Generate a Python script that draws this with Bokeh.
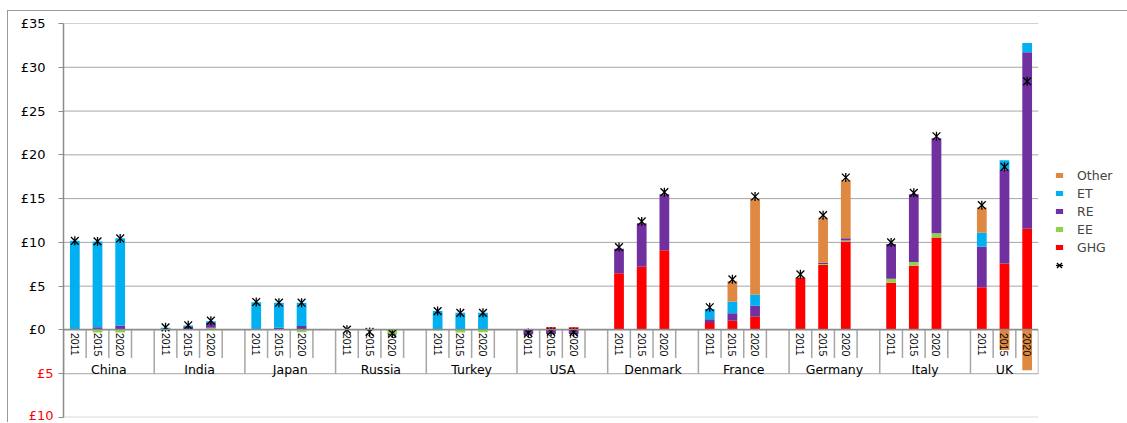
import numpy as np
from bokeh.plotting import figure
from bokeh.models import (ColumnDataSource, FactorRange, Range1d, CategoricalAxis,
                          LinearAxis, FixedTicker, Legend, LegendItem)
from bokeh.embed import file_html
from bokeh.resources import INLINE

# ---------------- data ----------------
countries = ["China", "India", "Japan", "Russia", "Turkey", "USA",
             "Denmark", "France", "Germany", "Italy", "UK"]
years = ["2011", "2015", "2020"]

ghg = [0, 0, 0,  0, 0, 0,  0, 0, 0,  0, 0, 0,  0, 0, 0,  0, 0.3, 0.3,
       6.47, 7.22, 9.09,  0.8, 1.06, 1.52,  5.95, 7.41, 10.11,
       5.39, 7.33, 10.57,  4.87, 7.6, 11.55]
ee = [0, -0.3, -0.3,  0, 0, 0.25,  0, 0, -0.25,  0, -0.05, -0.5,
      -0.05, -0.3, -0.25,  0, 0, 0,  0, 0, 0,  0, 0, 0,
      0.1, 0.12, 0.12,  0.46, 0.42, 0.46,  0, 0, 0]
re = [0.1, 0.3, 0.5,  0.05, 0.35, 0.55,  0.05, 0.25, 0.45,  0, 0, 0,
      0, 0, 0,  -0.5, -0.45, -0.45,  2.8, 4.98, 6.42,  0.42, 0.84, 1.25,
      0, 0.15, 0.25,  3.96, 7.76, 10.86,  4.63, 10.72, 20.18]
et = [10.08, 9.8, 9.96,  0.2, 0.15, 0.2,  3.1, 2.85, 2.65,  0, 0, 0,
      2.15, 1.95, 1.95,  0, 0, 0,  0, 0, 0,  1.17, 1.33, 1.26,
      0, 0, 0,  0, 0, 0,  1.59, 1.06, 1.03]
other = [0, 0, 0,  0, 0, 0,  0, 0, 0,  0, 0, 0,  0, 0, 0,  0, 0, 0,
         0, 0, 0,  0, 2.32, 10.94,  0, 5.13, 6.61,  0, 0, 0,  2.9, -2.3, -4.6]
total = [10.18, 10.11, 10.45,  0.3, 0.53, 1.06,  3.19, 3.11, 3.11,
         0.03, -0.23, -0.4,  2.15, 1.95, 1.95,  -0.35, -0.2, -0.25,
         9.46, 12.39, 15.74,  2.59, 5.78, 15.24,  6.35, 13.11, 17.41,
         10.0, 15.66, 22.12,  14.25, 18.62, 28.39]

y_ticks = [-10, -5, 0, 5, 10, 15, 20, 25, 30, 35]

series = [("GHG", ghg, "#FF0000"), ("EE", ee, "#92D050"), ("RE", re, "#7030A0"),
          ("ET", et, "#00B0F0"), ("Other", other, "#DE8842")]

# ---------------- factors ----------------
factors = []
for i, c in enumerate(countries):
    for y in years:
        factors.append((c, y))
    if i < len(countries) - 1:
        factors.append((c, " "))
bar_x = [(c, y) for c in countries for y in years]
n = len(factors)

p = figure(x_range=FactorRange(factors=factors, factor_padding=0, group_padding=0,
                               subgroup_padding=0, range_padding=0),
           y_range=Range1d(-10, 35),
           frame_width=975, frame_height=394, output_backend="svg", toolbar_location=None,
           x_axis_location=None, min_border_left=55, min_border_right=88,
           min_border_top=12, min_border_bottom=5)
p.outline_line_color = None
p.background_fill_color = "white"
p.border_fill_color = "white"
p.margin = (10, 0, 0, 7)
p.styles = {"border-top": "1px solid #9A9A9A", "border-left": "1px solid #9A9A9A"}

# horizontal gridlines
grid_y = np.array(y_ticks, dtype=float)
grid_col = ["#D9D9D9" if t == min(y_ticks) else "#A6A6A6" for t in y_ticks]
grid_w = [2 if t == min(y_ticks) else 1 for t in y_ticks]
p.segment(x0=np.zeros(len(grid_y)), x1=np.full(len(grid_y), n), y0=grid_y, y1=grid_y,
          line_color=grid_col, line_width=grid_w, level="underlay")
p.xgrid.visible = False
p.ygrid.visible = False

# stacked bars (positive and negative stacks separately)
pos = np.zeros(len(bar_x))
neg = np.zeros(len(bar_x))
proxies = {}
for name, vals, color in series:
    v = np.array(vals, dtype=float)
    bottom = np.where(v >= 0, pos, neg)
    top = bottom + v
    pos += np.where(v > 0, v, 0)
    neg += np.where(v < 0, v, 0)
    src = ColumnDataSource(dict(x=bar_x, bottom=bottom, top=top))
    p.vbar(x="x", bottom="bottom", top="top", width=0.43, source=src,
           fill_color=color, line_color=None)
    # legend swatch (not drawn in the plot: y is NaN)
    proxies[name] = p.scatter(x=[bar_x[0]], y=[np.nan], marker="dash", size=8,
                              line_color=color, line_width=5, line_cap="butt")

# total markers (X with a vertical bar)
tsrc = ColumnDataSource(dict(x=bar_x, y=total))
r_x = p.scatter(x="x", y="y", source=tsrc, marker="x", size=11, line_color="black",
                line_width=1.3)
r_v = p.scatter(x="x", y="y", source=tsrc, marker="dash", angle=np.pi / 2, size=9,
                line_color="black", line_width=1.3)

# category boxes under the zero line
slot_edges = np.arange(n + 1)
group_edges = [0]
acc = 0
for c in countries:
    acc += sum(1 for f in factors if f[0] == c)
    group_edges.append(acc)
line_col = "#A6A6A6"
p.segment(x0=slot_edges, x1=slot_edges, y0=np.zeros(n + 1), y1=np.full(n + 1, -3.2),
          line_color=line_col, line_width=1.5)
ge = np.array(group_edges)
p.segment(x0=ge, x1=ge, y0=np.full(len(ge), -3.2), y1=np.full(len(ge), -5.0),
          line_color=line_col, line_width=1.5)

# x axis at zero
xax = CategoricalAxis(fixed_location=0)
xax.axis_line_color = "#8C8C8C"
xax.axis_line_width = 1.5
xax.major_tick_line_color = None
xax.major_tick_out = 0
xax.major_tick_in = 0
xax.minor_tick_line_color = None
xax.major_label_orientation = "vertical"
xax.major_label_text_font = "Liberation Sans"
xax.major_label_text_font_size = "10.5px"
xax.major_label_text_color = "black"
xax.major_label_standoff = 3
xax.group_text_font = "DejaVu Sans"
xax.group_text_font_size = "12.5px"
xax.group_text_font_style = "normal"
xax.group_text_color = "black"
xax.separator_line_color = None
p.add_layout(xax, "below")

# y axis: black labels for >= 0, ticks everywhere
p.yaxis.ticker = FixedTicker(ticks=y_ticks)
p.yaxis.major_label_overrides = {t: (f"£{t}" if t >= 0 else "") for t in y_ticks}
p.yaxis.axis_line_color = "#8C8C8C"
p.yaxis.axis_line_width = 1.5
p.yaxis.major_tick_line_color = "#8C8C8C"
p.yaxis.major_tick_out = 5
p.yaxis.major_tick_in = 0
p.yaxis.minor_tick_line_color = None
p.yaxis.major_label_standoff = 13
p.yaxis.major_label_text_font = "DejaVu Sans"
p.yaxis.major_label_text_font_size = "13px"
p.yaxis.major_label_text_color = "black"

# red labels for negative values (Excel "£0;[Red]£0"), pulled back under the main axis
neg_ticks = [t for t in y_ticks if t < 0]
nax = LinearAxis(ticker=FixedTicker(ticks=neg_ticks),
                 major_label_overrides={t: f"£{-t}" for t in neg_ticks})
nax.axis_line_color = None
nax.major_tick_line_color = None
nax.major_tick_out = 0
nax.major_tick_in = 0
nax.minor_tick_line_color = None
nax.major_label_standoff = -36
nax.major_label_text_font = "DejaVu Sans"
nax.major_label_text_font_size = "13px"
nax.major_label_text_color = "#FF0000"
p.add_layout(nax, "left")

legend = Legend(items=[LegendItem(label="Other", renderers=[proxies["Other"]]),
                       LegendItem(label="ET", renderers=[proxies["ET"]]),
                       LegendItem(label="RE", renderers=[proxies["RE"]]),
                       LegendItem(label="EE", renderers=[proxies["EE"]]),
                       LegendItem(label="GHG", renderers=[proxies["GHG"]]),
                       LegendItem(label=" ", renderers=[r_x, r_v])],
                location=(11, 143))
legend.border_line_color = None
legend.background_fill_alpha = 0
legend.label_text_font = "DejaVu Sans"
legend.label_text_font_size = "12.5px"
legend.glyph_width = 20
legend.glyph_height = 18
legend.label_standoff = 8
legend.label_height = 18
legend.spacing = 0
legend.padding = 0
legend.margin = 0
p.add_layout(legend, "right")

open("out.html", "w").write(file_html(p, INLINE))
